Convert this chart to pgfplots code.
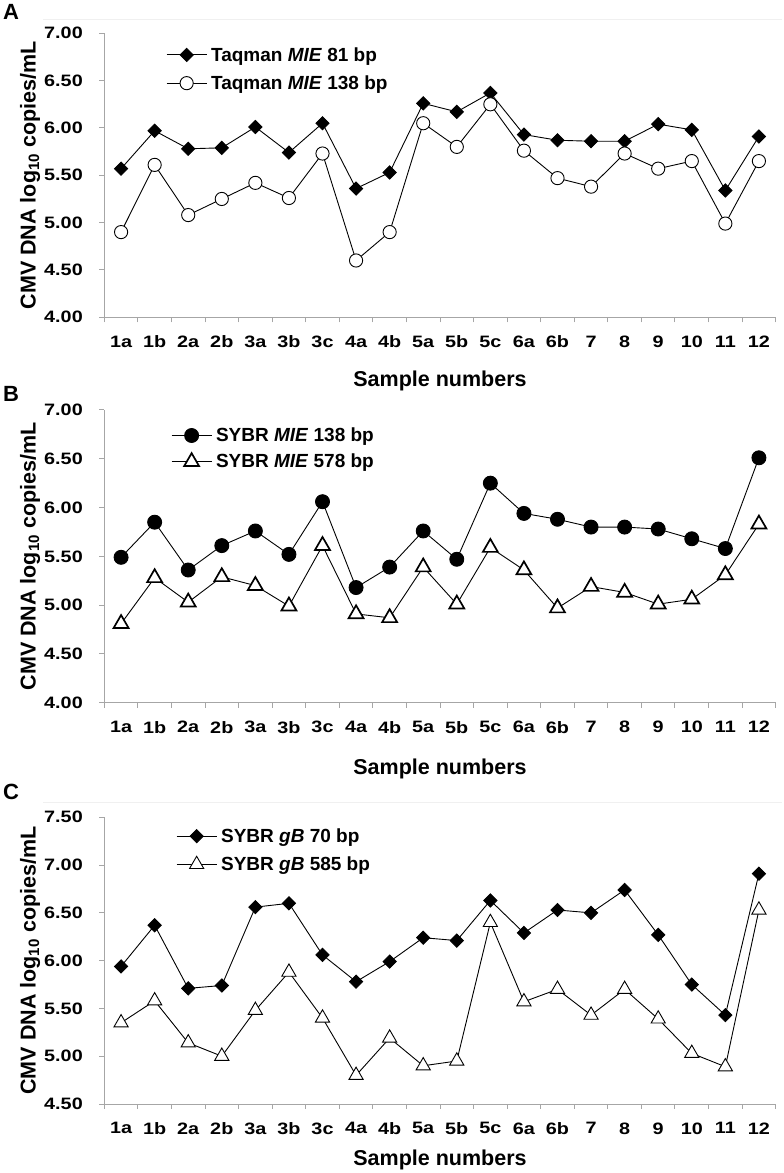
\documentclass[border=0pt]{standalone}
\usepackage{fontspec}
\setmainfont{Liberation Sans}
\newfontfamily\tickfam{Liberation Sans}[FakeStretch=1.2]
\usepackage{pgfplots}
\pgfplotsset{compat=1.18}
\usepackage{pgfplotstable}

\pgfplotstableread{
x s1 s2
0 5.57 4.90
1 5.97 5.61
2 5.78 5.08
3 5.79 5.25
4 6.01 5.42
5 5.74 5.26
6 6.05 5.73
7 5.36 4.60
8 5.53 4.90
9 6.26 6.05
10 6.17 5.80
11 6.37 6.25
12 5.93 5.76
13 5.87 5.47
14 5.86 5.38
15 5.86 5.73
16 6.04 5.57
17 5.98 5.65
18 5.34 4.99
19 5.91 5.65
}\dataA

\pgfplotstableread{
x s1 s2
0 5.49 4.81
1 5.85 5.28
2 5.36 5.03
3 5.61 5.29
4 5.76 5.20
5 5.52 4.99
6 6.06 5.61
7 5.18 4.91
8 5.39 4.87
9 5.76 5.39
10 5.47 5.01
11 6.25 5.59
12 5.94 5.36
13 5.88 4.97
14 5.80 5.19
15 5.80 5.13
16 5.78 5.01
17 5.68 5.06
18 5.58 5.31
19 6.51 5.83
}\dataB

\pgfplotstableread{
x s1 s2
0 5.94 5.35
1 6.37 5.58
2 5.71 5.14
3 5.74 5.00
4 6.56 5.48
5 6.60 5.88
6 6.06 5.40
7 5.78 4.80
8 5.99 5.19
9 6.24 4.90
10 6.21 4.95
11 6.63 6.40
12 6.29 5.57
13 6.53 5.70
14 6.50 5.43
15 6.74 5.70
16 6.27 5.39
17 5.75 5.03
18 5.43 4.89
19 6.91 6.53
}\dataC

\newcommand\tickfont{\tickfam\fontsize{16.5}{20}\selectfont\bfseries}
\newcommand\legfont{\fontsize{19}{22}\selectfont\bfseries}
\newcommand\labfont{\fontsize{21.5}{24}\selectfont\bfseries}

\pgfplotsset{
  panel/.style={
    scale only axis, width=671.4pt,
    xmin=-0.5, xmax=19.5,
    axis lines=left,
    axis line style={-, draw=gray!70, line width=1pt},
    tick align=outside, major tick length=5pt,
    tick style={draw=gray!70, line width=1pt},
    xtick={-0.5,0.5,1.5,2.5,3.5,4.5,5.5,6.5,7.5,8.5,9.5,10.5,11.5,12.5,13.5,14.5,15.5,16.5,17.5,18.5,19.5},
    xticklabels={1a,1b,2a,2b,3a,3b,3c,4a,4b,5a,5b,5c,6a,6b,7,8,9,10,11,12,{}},
    xticklabel style={xshift=16.785pt, yshift=-10pt, font=\tickfont},
    yticklabel style={xshift=-13pt, font=\tickfont},
    clip=false,
    legend cell align=left,
    legend style={draw=none, fill=none, inner sep=0pt, font=\legfont, anchor=north west,
      column sep=3pt, nodes={inner sep=1pt}},
    legend image code/.code={\draw[mark repeat=2, mark phase=2, ##1] plot coordinates {(0pt,0pt) (20pt,0pt) (40pt,0pt)};},
    xlabel={Sample numbers},
    ylabel={CMV DNA log\textsubscript{10} copies/mL},
    label style={font=\labfont},
    ylabel style={at={(axis description cs:-0.1022,0.5)}, anchor=base},
  },
  ln/.style={black, line width=0.9pt},
  dia/.style={ln, mark=square*, mark size=4.7pt, mark options={rotate=45, fill=black, solid, line width=0.8pt}},
  ocirc/.style={ln, mark=*, mark size=6.6pt, mark options={fill=white, solid, line width=0.9pt}},
  fcirc/.style={ln, mark=*, mark size=7pt, mark options={fill=black, solid}},
  otri/.style={ln, mark=triangle*, mark size=8.6pt, mark options={fill=white, solid, line width=1.7pt}},
  otrithin/.style={ln, mark=triangle*, mark size=8.2pt, mark options={fill=white, solid, line width=0.9pt}},
}

\begin{document}
\begin{tikzpicture}
\path[use as bounding box] (0pt,0pt) rectangle (784pt,1173pt);

\draw[gray!12, line width=0.8pt] (43pt,1154pt) -- (782pt,1154pt);
\draw[gray!12, line width=0.8pt] (43pt,370.3pt) -- (782pt,370.3pt);

% Panel A
\begin{axis}[panel, at={(104.3pt,855.7pt)}, anchor=south west, height=284pt,
  ymin=4, ymax=7, ytick={4,4.5,5,5.5,6,6.5,7},
  yticklabels={4.00,4.50,5.00,5.50,6.00,6.50,7.00},
  xlabel style={at={(axis description cs:0.5,-0.242)}, anchor=base},
  legend style={at={(axis description cs:0.0919,0.955)}, row sep=11pt}]
\addplot[dia] table[x=x,y=s1]{\dataA};
\addlegendentry{Taqman \textit{MIE} 81 bp}
\addplot[ocirc] table[x=x,y=s2]{\dataA};
\addlegendentry{Taqman \textit{MIE} 138 bp}
\end{axis}

% Panel B
\begin{axis}[panel, at={(104.3pt,470.3pt)}, anchor=south west, height=292.7pt,
  ymin=4, ymax=7, ytick={4,4.5,5,5.5,6,6.5,7},
  yticklabels={4.00,4.50,5.00,5.50,6.00,6.50,7.00},
  xlabel style={at={(axis description cs:0.5,-0.247)}, anchor=base},
  legend style={at={(axis description cs:0.0993,0.943)}, row sep=9pt}]
\addplot[fcirc] table[x=x,y=s1]{\dataB};
\addlegendentry{SYBR \textit{MIE} 138 bp}
\addplot[otri] table[x=x,y=s2]{\dataB};
\addlegendentry{SYBR \textit{MIE} 578 bp}
\end{axis}

% Panel C
\begin{axis}[panel, at={(104.3pt,69pt)}, anchor=south west, height=286.7pt,
  ymin=4.5, ymax=7.5, ytick={4.5,5,5.5,6,6.5,7,7.5},
  yticklabels={4.50,5.00,5.50,6.00,6.50,7.00,7.50},
  xlabel style={at={(axis description cs:0.5,-0.213)}, anchor=base},
  legend style={at={(axis description cs:0.1068,0.965)}, row sep=11pt}]
\addplot[dia] table[x=x,y=s1]{\dataC};
\addlegendentry{SYBR \textit{gB} 70 bp}
\addplot[otrithin] table[x=x,y=s2]{\dataC};
\addlegendentry{SYBR \textit{gB} 585 bp}
\end{axis}

\node[anchor=base west, inner sep=0pt, font=\fontsize{22}{24}\selectfont\bfseries] at (3pt,1153pt) {A};
\node[anchor=base west, inner sep=0pt, font=\fontsize{22}{24}\selectfont\bfseries] at (3pt,771pt) {B};
\node[anchor=base west, inner sep=0pt, font=\fontsize{22}{24}\selectfont\bfseries] at (3pt,373pt) {C};
\end{tikzpicture}
\end{document}
